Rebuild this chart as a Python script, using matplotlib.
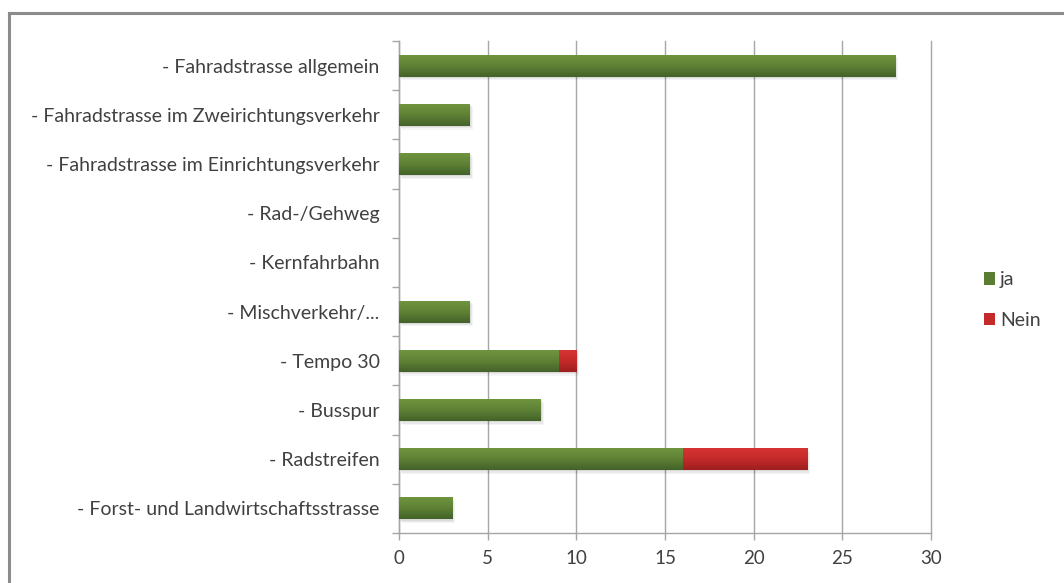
import matplotlib
matplotlib.use("Agg")
import matplotlib.pyplot as plt
import numpy as np
from matplotlib.colors import LinearSegmentedColormap
from matplotlib.lines import Line2D
from matplotlib.patches import Patch

categories = [
    "- Fahradstrasse allgemein",
    "- Fahradstrasse im Zweirichtungsverkehr",
    "- Fahradstrasse im Einrichtungsverkehr",
    "- Rad-/Gehweg",
    "- Kernfahrbahn",
    "- Mischverkehr/...",
    "- Tempo 30",
    "- Busspur",
    "- Radstreifen",
    "- Forst- und Landwirtschaftsstrasse",
]
ja = [28, 4, 4, 0, 0, 4, 9, 8, 16, 3]
nein = [0, 0, 0, 0, 0, 0, 1, 0, 7, 0]
xticks = [0, 5, 10, 15, 20, 25, 30]

plt.rcParams['font.family'] = ['Lato', 'DejaVu Sans']
text_color = '#404040'
grid_color = '#a6a6a6'

fig = plt.figure(figsize=(10.64, 5.83), dpi=100)
ax = fig.add_axes([399/1064, 1-533/583, (931-399)/1064, (533-41)/583])

n = len(categories)
y = np.arange(n)
h = 0.45

green_cmap = LinearSegmentedColormap.from_list('g', ['#71963f', '#5f8236', '#44622a'])
red_cmap = LinearSegmentedColormap.from_list('r', ['#d83535', '#c52a2a', '#9e1f1f'])
grad = np.linspace(0, 1, 64).reshape(-1, 1)

def grad_bars(lefts, widths, cmap, label):
    bars = ax.barh(y, widths, left=lefts, height=h, color=cmap(0.5), label=label, zorder=3)
    for b in bars:
        if b.get_width() <= 0:
            continue
        x0, y0 = b.get_x(), b.get_y()
        w, hh = b.get_width(), b.get_height()
        # soft shadow
        for k, a in enumerate([0.06, 0.05, 0.04]):
            d = 0.05 * (k + 1)
            ax.add_patch(plt.Rectangle((x0 + d, y0 + d * 0.5), w, hh, color='#000000',
                                       alpha=a, zorder=2, lw=0))
        im = ax.imshow(grad, extent=[x0, x0 + w, y0, y0 + hh], aspect='auto', cmap=cmap,
                       origin='lower', zorder=4, interpolation='bilinear')
        im.set_clip_path(b)
    return bars

grad_bars([0]*n, ja, green_cmap, 'ja')
grad_bars(ja, nein, red_cmap, 'Nein')

ax.set_xlim(0, 30)
ax.set_ylim(n - 0.5, -0.5)
ax.set_xticks(xticks)
ax.set_xticklabels([str(t) for t in xticks])
ax.set_yticks(y)
ax.set_yticklabels(categories)
ax.set_yticks(np.arange(-0.5, n, 1), minor=True)
ax.tick_params(axis='y', which='major', length=0, pad=14, labelsize=14, labelcolor=text_color)
ax.tick_params(axis='y', which='minor', length=5, color=grid_color, width=1)
ax.tick_params(axis='x', length=5, color=grid_color, width=1, labelsize=13.5, labelcolor=text_color, pad=7)

ax.grid(axis='x', color=grid_color, linewidth=1, zorder=0)
for gl in ax.get_xgridlines():
    gl.set_clip_on(False)
ax.set_axisbelow(True)
for s in ['top', 'right']:
    ax.spines[s].set_visible(False)
for s in ['left', 'bottom']:
    ax.spines[s].set_color(grid_color)
    ax.spines[s].set_linewidth(1)

handles = [Patch(facecolor='#5a7d33', edgecolor='none'), Patch(facecolor='#c42a2a', edgecolor='none')]
fig.legend(handles, ['ja', 'Nein'], loc='center left', bbox_to_anchor=(966/1064, 1-300/583),
           frameon=False, fontsize=14, labelcolor=text_color, handlelength=0.6, handleheight=0.6,
           handletextpad=0.25, labelspacing=1.2)

# outer chart frame (top and left edges visible)
fig.add_artist(Line2D([9/1064, 1], [1-12.5/583, 1-12.5/583], color='#8c8c8c', lw=2.2, transform=fig.transFigure))
fig.add_artist(Line2D([9/1064, 9/1064], [0, 1-12.5/583], color='#8c8c8c', lw=2.2, transform=fig.transFigure))

fig.savefig('out.png', dpi=100)
